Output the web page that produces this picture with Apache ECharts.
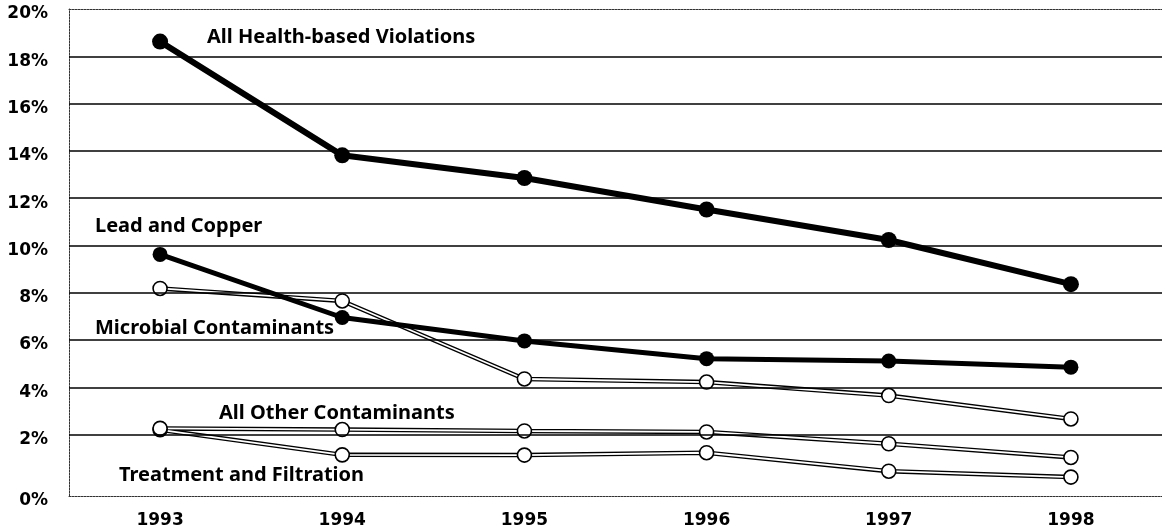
<!DOCTYPE html>
<html>
<head>
<meta charset="utf-8">
<script src="https://cdn.jsdelivr.net/npm/echarts@6/dist/echarts.min.js"></script>
<style>
html,body{margin:0;padding:0;background:#fff;}
#chart{width:1162px;height:529px;}
</style>
</head>
<body>
<div id="chart"></div>
<script>
// ---- data ----
const years = ['1993', '1994', '1995', '1996', '1997', '1998'];
const allHealthBased = [18.62, 13.81, 12.85, 11.52, 10.23, 8.36];
const leadAndCopper = [9.62, 6.95, 5.96, 5.21, 5.11, 4.85];
const microbial = [8.18, 7.65, 4.35, 4.22, 3.65, 2.66];
const allOther = [2.26, 2.21, 2.15, 2.11, 1.61, 1.03];
const treatmentFiltration = [2.2, 1.14, 1.13, 1.23, 0.45, 0.2];
const gridValues = [2, 4, 6, 8, 10, 12, 14, 16, 18];
const yLabelValues = [0, 2, 4, 6, 8, 10, 12, 14, 16, 18, 20];
const axisFloor = -0.6;   // the drawn baseline sits a little below 0%
const axisTop = 20;
const seriesNames = {
  health: 'All Health-based Violations',
  lead: 'Lead and Copper',
  micro: 'Microbial Contaminants',
  other: 'All Other Contaminants',
  tf: 'Treatment and Filtration'
};

const chart = echarts.init(document.getElementById('chart'), null, {renderer: 'canvas'});

const labelFont = '"Noto Sans", Lato, sans-serif';
const tickFont = '"DejaVu Sans", "Noto Sans", sans-serif';
const annoFont = 'bold 20px ' + labelFont;

function openSeries(name, data) {
  return [
    {
      name: name + ' outline', type: 'line', data: data, symbol: 'none', silent: true,
      lineStyle: {color: '#000', width: 4.5}, z: 2
    },
    {
      name: name, type: 'line', data: data, symbol: 'circle', symbolSize: 14,
      lineStyle: {color: '#fff', width: 1.8},
      itemStyle: {color: '#fff', borderColor: '#000', borderWidth: 1.6}, z: 3
    }
  ];
}

const yLabelTicks = yLabelValues.map(v => v === 0 ? axisFloor : v);

const gridSeries = {
  name: 'grid', type: 'line', data: [], silent: true, z: 1,
  markLine: {
    silent: true, symbol: 'none', animation: false,
    label: {show: false},
    lineStyle: {color: '#000', width: 1.5, type: 'solid'},
    data: gridValues.map(v => ({yAxis: v}))
  }
};

const dotted = {color: '#333', width: 1, type: [2, 1]};

function anno(text, x, y) {
  return {type: 'text', x: x, y: y, style: {text: text, font: annoFont, fill: '#000', verticalAlign: 'middle', align: 'left'}};
}

const option = {
  animation: false,
  backgroundColor: '#fff',
  grid: {left: 69, right: 0, top: 9, bottom: 32},
  xAxis: [
    {
      type: 'category', data: years, boundaryGap: true, position: 'bottom',
      axisLine: {show: true, onZero: false, lineStyle: dotted},
      axisTick: {show: false},
      axisLabel: {color: '#000', fontFamily: tickFont, fontWeight: 'bold', fontSize: 17, margin: 16}
    },
    {
      type: 'category', data: years, position: 'top',
      axisLine: {show: true, onZero: false, lineStyle: dotted},
      axisTick: {show: false}, axisLabel: {show: false}
    }
  ],
  yAxis: {
    type: 'value', min: axisFloor, max: axisTop,
    axisLine: {show: true, onZero: false, lineStyle: dotted},
    axisTick: {show: false},
    axisLabel: {
      customValues: yLabelTicks,
      formatter: v => (v < 0 ? 0 : v) + '%',
      color: '#000', fontFamily: tickFont, fontWeight: 'bold', fontSize: 17, margin: 21,
      padding: [0, 0, 0, 0], verticalAlign: 'top', lineHeight: 10
    },
    splitLine: {show: false}
  },
  series: [
    gridSeries,
    ...openSeries(seriesNames.tf, treatmentFiltration),
    ...openSeries(seriesNames.other, allOther),
    ...openSeries(seriesNames.micro, microbial),
    {
      name: seriesNames.lead, type: 'line', data: leadAndCopper, symbol: 'circle', symbolSize: 15,
      lineStyle: {color: '#000', width: 5}, itemStyle: {color: '#000'}, z: 4
    },
    {
      name: seriesNames.health, type: 'line', data: allHealthBased, symbol: 'circle', symbolSize: 16,
      lineStyle: {color: '#000', width: 6}, itemStyle: {color: '#000'}, z: 5
    }
  ],
  graphic: [
    anno(seriesNames.health, 207, 37),
    anno(seriesNames.lead, 95, 226),
    anno(seriesNames.micro, 95, 328),
    anno(seriesNames.other, 219, 413),
    anno(seriesNames.tf, 119, 475)
  ]
};
chart.setOption(option);
</script>
</body>
</html>
